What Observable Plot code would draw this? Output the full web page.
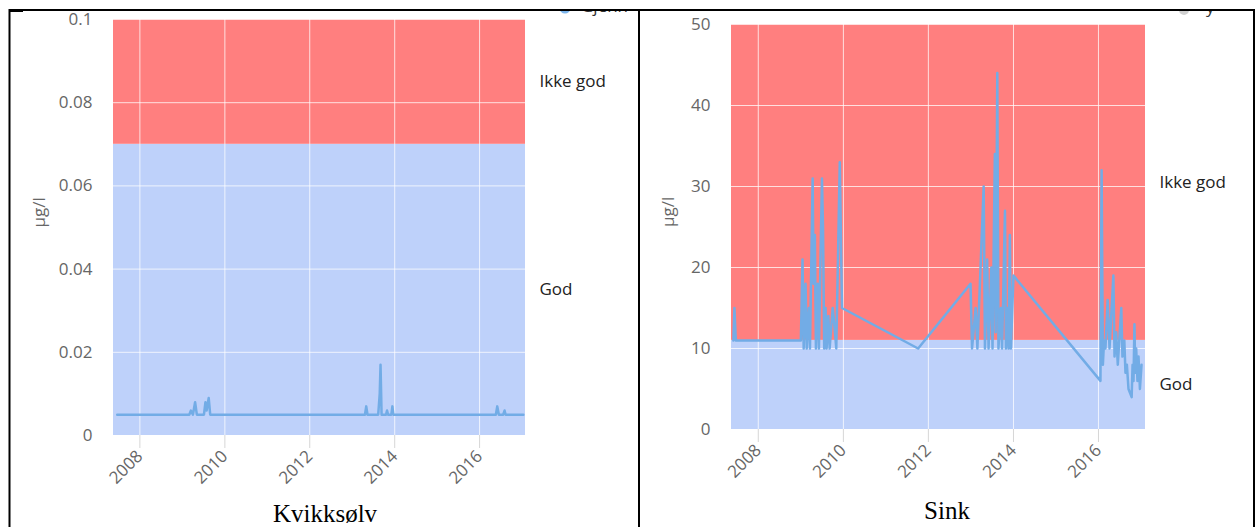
<!DOCTYPE html>
<html>
<head>
<meta charset="utf-8">
<script src="https://cdn.jsdelivr.net/npm/d3@7"></script>
<script src="https://cdn.jsdelivr.net/npm/@observablehq/plot@0.6"></script>
<style>
  html, body { margin: 0; padding: 0; background: #fff; }
  #wrap { position: relative; width: 1255px; height: 527px; overflow: hidden; background: #fff; }
  .panel { position: absolute; top: 0; }
  #overlay { position: absolute; left: 0; top: 0; pointer-events: none; }
</style>
</head>
<body>
<div id="wrap">
  <div id="left" class="panel" style="left:0px"></div>
  <div id="right" class="panel" style="left:630px"></div>
  <svg id="overlay" width="1255" height="527"></svg>
</div>
<script>
// ---------- data ----------
const panelTitles = ["Kvikksølv", "Sink"];
const unitLabel = "µg/l";
const bandNames = ["God", "Ikke god"];
const bandColors = ["#bed1fa", "#ff7f7f"];

const hgBandLow = [0, 0.07];
const hgBandHigh = [0.07, 0.1];
const znBandLow = [0, 11];
const znBandHigh = [11, 50];

const hgYTicks = [0, 0.02, 0.04, 0.06, 0.08, 0.1];
const znYTicks = [0, 10, 20, 30, 40, 50];
const yearTicks = ["2008-01-01", "2010-01-01", "2012-01-01", "2014-01-01", "2016-01-01"];

const hgXDomain = ["2007-05-19", "2017-01-30"];
const znXDomain = ["2007-05-16", "2017-02-08"];

// Kvikksølv (mercury)
const hgDates = [
  "2007-06-20", "2009-03-01", "2009-03-15", "2009-04-01", "2009-04-20", "2009-05-05",
  "2009-07-05", "2009-07-18", "2009-07-28", "2009-08-15", "2009-08-28",
  "2013-04-20", "2013-05-01", "2013-05-12",
  "2013-08-12", "2013-08-25", "2013-09-01", "2013-09-10",
  "2013-10-18", "2013-10-27", "2013-11-05",
  "2013-12-03", "2013-12-12", "2013-12-20",
  "2016-05-20", "2016-06-01", "2016-06-15",
  "2016-07-22", "2016-08-03", "2016-08-12", "2017-01-12"
];
const hgValues = [
  0.005, 0.005, 0.006, 0.005, 0.008, 0.005,
  0.005, 0.008, 0.006, 0.009, 0.005,
  0.005, 0.007, 0.005,
  0.005, 0.010, 0.017, 0.005,
  0.005, 0.006, 0.005,
  0.005, 0.007, 0.005,
  0.005, 0.007, 0.005,
  0.005, 0.006, 0.005, 0.005
];

// Sink (zinc)
const znDates = [
  "2007-06-01", "2007-06-10", "2007-06-22",
  "2009-01-01", "2009-01-15", "2009-01-25", "2009-02-10", "2009-02-20", "2009-03-10", "2009-03-20",
  "2009-04-12", "2009-04-20", "2009-05-01", "2009-05-10", "2009-05-25", "2009-06-05",
  "2009-07-01", "2009-07-10", "2009-07-20", "2009-08-01", "2009-08-10", "2009-08-25", "2009-09-05",
  "2009-10-01", "2009-10-15", "2009-11-01", "2009-12-01", "2009-12-20",
  "2011-10-05",
  "2012-12-28", "2013-01-10", "2013-02-10", "2013-02-25", "2013-04-20", "2013-05-01",
  "2013-05-20", "2013-06-01", "2013-06-25", "2013-07-05", "2013-07-25", "2013-08-01",
  "2013-08-15", "2013-08-25", "2013-09-15", "2013-09-25", "2013-10-20", "2013-10-28",
  "2013-11-10", "2013-11-20", "2013-12-01", "2013-12-10", "2014-01-01",
  "2016-01-18", "2016-01-28", "2016-02-08", "2016-02-18", "2016-03-01", "2016-03-20",
  "2016-04-05", "2016-05-08", "2016-05-18", "2016-06-01", "2016-06-15", "2016-07-15",
  "2016-07-25", "2016-08-10", "2016-08-20", "2016-09-01", "2016-09-15", "2016-10-12",
  "2016-10-20", "2016-10-28", "2016-11-05", "2016-11-12", "2016-11-20", "2016-12-01",
  "2016-12-10", "2016-12-22", "2017-01-05"
];
const znValues = [
  11, 15, 11,
  11, 21, 10, 18, 10, 15, 10,
  31, 18, 24, 10, 18, 10,
  31, 25, 10, 15, 10, 14, 10,
  15, 13, 10, 33, 15,
  10,
  18, 10, 15, 10, 30, 10,
  21, 10, 20, 10, 34, 12,
  44, 10, 15, 10, 27, 10,
  15, 10, 24, 10, 19,
  6, 32, 8, 11, 10, 16,
  10, 19, 9, 12, 8, 15,
  9, 11, 7, 8, 5, 4,
  8, 6, 13, 7, 10, 6,
  9, 5, 8
];

// ---------- build ----------
const parse = s => new Date(s + "T00:00:00Z");
const FS = 17;

function makeChart({dates, values, low, high, yTicks, xDomain, width, height, margins, labelDx}) {
  const series = dates.map((d, i) => ({date: parse(d), value: values[i]}));
  const bands = bandNames.map((name, i) => ({name, lo: low[i], hi: high[i], color: bandColors[i]}));
  const dom = xDomain.map(parse);
  const ticks = yearTicks.map(parse);
  return Plot.plot({
    width, height,
    marginLeft: margins[0], marginRight: margins[1], marginTop: margins[2], marginBottom: margins[3],
    style: {fontFamily: "'Open Sans', sans-serif", fontSize: FS + "px", background: "transparent", overflow: "visible"},
    x: {type: "utc", domain: dom},
    y: {domain: [yTicks[0], yTicks[yTicks.length - 1]], nice: false},
    color: {type: "identity"},
    marks: [
      Plot.rect(bands, {x1: () => dom[0], x2: () => dom[1], y1: "lo", y2: "hi", fill: "color"}),
      Plot.gridX(ticks, {stroke: "#ffffff", strokeOpacity: 0.75, strokeWidth: 1}),
      Plot.gridY(yTicks, {stroke: "#ffffff", strokeOpacity: 0.75, strokeWidth: 1}),
      Plot.axisX(ticks, {tickSize: 13, tickPadding: 5, tickRotate: -45, tickFormat: d3.utcFormat("%Y"),
        stroke: "#d6d6d6", fill: "#666", label: null, fontSize: FS}),
      Plot.axisY(yTicks, {tickSize: 0, tickPadding: 21, tickFormat: d3.format("~g"),
        fill: "#666", label: null, fontSize: FS}),
      Plot.lineY(series, {x: "date", y: "value", stroke: "#72ace6", strokeWidth: 2.5, strokeLinejoin: "round"}),
      Plot.text(bands, {y: d => (d.lo + d.hi) / 2, text: "name", frameAnchor: "right", dx: 14,
        textAnchor: "start", fill: "#222", fontSize: FS}),
      Plot.text([unitLabel], {text: d => d, frameAnchor: "left", rotate: -90, dx: labelDx,
        fill: "#666", fontSize: FS})
    ]
  });
}

document.getElementById("left").append(makeChart({
  dates: hgDates, values: hgValues, low: hgBandLow, high: hgBandHigh, yTicks: hgYTicks,
  xDomain: hgXDomain, width: 630, height: 490, margins: [113, 105, 19, 55], labelDx: -74
}));
document.getElementById("right").append(makeChart({
  dates: znDates, values: znValues, low: znBandLow, high: znBandHigh, yTicks: znYTicks,
  xDomain: znXDomain, width: 625, height: 490, margins: [101, 110, 24, 61], labelDx: -63
}));

// ---------- overlay: table borders, titles, cropped legend remnants ----------
const ov = d3.select("#overlay");
const defs = ov.append("defs");
defs.append("clipPath").attr("id", "legclip").append("rect").attr("x", 0).attr("y", 11).attr("width", 1255).attr("height", 20);
const leg = ov.append("g").attr("clip-path", "url(#legclip)");
leg.append("circle").attr("cx", 565).attr("cy", 8).attr("r", 5.5).attr("fill", "#7cb5ec");
leg.append("text").attr("x", 581).attr("y", 12).attr("font-family", "'Open Sans', sans-serif")
  .attr("font-size", FS).attr("fill", "#333").text("Gjenn");
leg.append("circle").attr("cx", 1184).attr("cy", 10).attr("r", 5).attr("fill", "#d0d0d0");
leg.append("text").attr("x", 1206).attr("y", 13).attr("font-family", "'Open Sans', sans-serif")
  .attr("font-size", FS).attr("fill", "#333").text("y");

// borders
ov.append("rect").attr("x", 9).attr("y", 9).attr("width", 1246).attr("height", 2).attr("fill", "#000");
ov.append("rect").attr("x", 9).attr("y", 9).attr("width", 14).attr("height", 3).attr("fill", "#000");
ov.append("rect").attr("x", 8.5).attr("y", 9).attr("width", 2).attr("height", 520).attr("fill", "#000");
ov.append("rect").attr("x", 638).attr("y", 9).attr("width", 2).attr("height", 520).attr("fill", "#000");
ov.append("rect").attr("x", 1253).attr("y", 9).attr("width", 2).attr("height", 520).attr("fill", "#000");

// titles
const titleX = [325, 947];
const titleY = [522, 519];
panelTitles.forEach((t, i) => {
  ov.append("text").attr("x", titleX[i]).attr("y", titleY[i]).attr("text-anchor", "middle")
    .attr("font-family", "'Liberation Serif', 'Times New Roman', serif").attr("font-size", 25)
    .attr("fill", "#000").text(t);
});
</script>
</body>
</html>
